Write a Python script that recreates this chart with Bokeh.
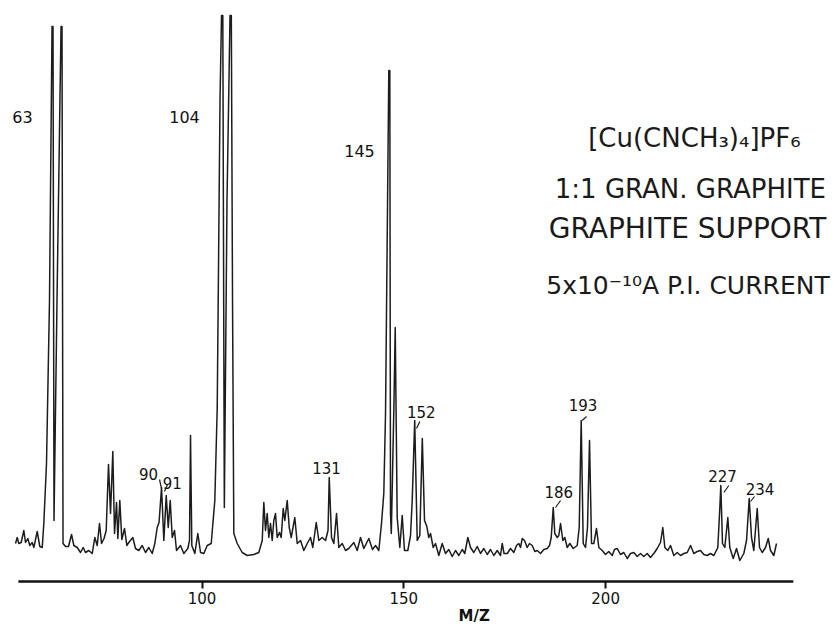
from bokeh.plotting import figure
from bokeh.models import Range1d, FixedTicker, ColumnDataSource, Title
from bokeh.embed import file_html
from bokeh.resources import INLINE
from bokeh.core.properties import value

# ---- spectrum trace (position on M/Z axis, relative intensity) ----
trace_mz = [53.79, 54.21, 54.61, 55.20, 55.85, 56.27, 56.84, 57.33, 57.93, 58.33, 59.17, 59.81, 60.41,
            60.80, 61.47, 62.21, 62.84, 63.08, 63.33, 64.07, 65.07, 65.31, 65.56, 66.18, 66.92, 67.67,
            68.24, 69.08, 69.90, 70.56, 71.14, 71.95, 72.80, 73.44, 74.03, 74.60, 75.10, 75.72, 76.26,
            76.83, 77.33, 77.90, 78.32, 78.82, 79.14, 79.63, 80.13, 80.80, 81.37, 81.86, 82.85, 83.52,
            84.34, 85.18, 86.00, 86.82, 87.66, 88.31, 88.90, 89.35, 89.97, 90.54, 91.13, 91.63, 92.12,
            92.62, 93.19, 93.68, 94.67, 95.49, 96.48, 96.90, 97.15, 97.47, 98.22, 98.96, 99.63, 100.45,
            101.29, 102.28, 103.17, 103.77, 104.46, 104.83, 105.15, 105.53, 106.19, 106.94, 107.26,
            107.56, 107.88, 108.72, 109.96, 111.20, 112.83, 114.07, 114.92, 115.31, 115.73, 116.15,
            116.55, 116.97, 117.39, 117.79, 118.21, 118.63, 119.20, 119.62, 120.12, 120.52, 121.11,
            121.61, 122.10, 122.99, 123.59, 124.41, 125.22, 126.07, 126.88, 127.45, 128.30, 128.94,
            129.78, 130.60, 131.22, 131.52, 132.09, 132.66, 133.33, 133.89, 134.74, 135.56, 136.37,
            137.61, 138.45, 139.27, 140.09, 141.33, 142.24, 142.99, 143.81, 144.47, 145.04, 145.47,
            146.28, 146.53, 146.70, 146.90, 147.57, 147.87, 148.36, 149.01, 149.60, 150.17, 150.99,
            151.66, 152.08, 152.70, 153.32, 153.96, 154.58, 155.13, 155.70, 156.19, 156.62, 157.28,
            157.85, 158.67, 159.51, 160.33, 161.15, 161.99, 162.81, 163.63, 164.47, 165.11, 165.86,
            166.53, 167.34, 168.19, 169.00, 169.82, 170.66, 171.48, 172.30, 173.14, 173.96, 174.38,
            174.83, 175.62, 176.44, 177.25, 177.92, 178.49, 178.91, 179.34, 179.91, 180.57, 181.14,
            181.81, 182.46, 183.05, 183.87, 184.69, 185.53, 186.10, 186.52, 187.02, 187.41, 188.01,
            188.40, 188.83, 189.40, 189.89, 190.49, 191.13, 191.97, 192.96, 193.46, 193.95, 194.45,
            195.02, 195.51, 196.01, 196.51, 197.08, 197.74, 198.32, 199.16, 199.98, 200.79, 201.64,
            202.20, 202.87, 203.69, 204.51, 205.35, 206.17, 206.99, 207.83, 208.65, 209.46, 210.31,
            211.12, 212.12, 212.78, 213.60, 214.17, 214.67, 215.41, 216.08, 216.90, 217.74, 218.56,
            219.38, 220.22, 221.04, 221.85, 222.70, 223.51, 224.33, 225.17, 225.99, 226.81, 227.80,
            228.30, 228.54, 228.96, 229.53, 230.28, 230.77, 231.62, 232.43, 233.25, 234.24, 234.91,
            235.58, 236.15, 236.72, 237.56, 238.13, 238.80, 239.62, 240.29, 240.86, 241.68, 242.34]

trace_int = [12, 18, 12, 13, 25, 13, 17, 10, 13, 8, 24, 9, 8,
             32, 92, 255, 529, 529, 35, 255, 529, 529, 12, 9, 9, 21,
             10, 8, 3, 8, 3, 5, 2, 18, 10, 32, 12, 17, 25,
             91, 42, 104, 22, 53, 17, 55, 16, 27, 10, 13, 18, 7,
             5, 10, 3, 8, 2, 12, 28, 33, 68, 15, 60, 28, 55,
             18, 25, 5, 10, 2, 7, 15, 120, 10, 2, 22, 3, 2,
             10, 12, 55, 148, 455, 540, 540, 48, 355, 540, 540,
             255, 22, 12, 3, 0, 1, 3, 15, 53, 25, 42,
             18, 32, 15, 35, 42, 18, 23, 18, 47, 35, 55,
             28, 18, 38, 12, 15, 5, 12, 18, 8, 33, 15,
             18, 15, 25, 78, 18, 12, 42, 8, 12, 5, 7,
             13, 5, 18, 7, 17, 6, 10, 5, 32, 62, 142,
             485, 485, 42, 22, 155, 228, 38, 8, 40, 5, 5,
             20, 55, 135, 15, 20, 117, 35, 29, 18, 22, 8,
             12, 0, 12, 2, 6, -1, 5, 0, 6, 2, 18,
             8, 3, 9, 2, 7, 1, 6, 0, 5, 0, 12,
             2, 2, 7, 3, 10, 12, 8, 17, 15, 8, 12,
             10, 4, 5, 2, 6, 7, 10, 18, 48, 22, 18,
             20, 32, 15, 18, 8, 12, 7, 10, 28, 135, 12,
             8, 28, 115, 12, 12, 27, 8, 5, 1, 4, 0,
             6, 7, 1, 3, -3, 2, 3, -1, 2, -1, 2,
             -2, 3, 7, 13, 28, 8, 5, 10, 0, 3, 0,
             2, 3, 10, 2, 4, 5, 1, 0, 2, 0, 8,
             48, 70, 12, 8, 38, 8, -3, 7, -5, 2, 15,
             57, 18, 5, 47, 8, 3, 8, 17, 5, 0, 12]

axis_ticks = [100, 150, 200]
axis_span = [54.5, 246.5]
axis_title = "M/Z"

peak_text = ["63", "104", "145", "131", "90", "91", "152", "186", "193", "227", "234"]
peak_text_mz = [55.52, 95.66, 139.02, 130.83, 86.74, 92.62, 154.34, 188.40, 194.40, 228.97, 238.26]
peak_text_int = [439, 439, 405, 88, 82, 73, 144, 64, 151, 80, 67]
peak_text_size = ["16px", "16px", "16px", "15px", "15px", "15px", "15px", "15px", "15px", "15px", "15px"]

leader_mz0 = [89.47, 90.70, 153.15, 187.59, 194.20, 229.29, 235.90]
leader_int0 = [76, 64, 127, 48, 135, 63, 54]
leader_mz1 = [89.96, 91.44, 153.96, 188.83, 195.27, 230.52, 236.89]
leader_int1 = [67, 71, 134, 55, 139, 70, 59]

info_lines = ["[Cu(CNCH\u2083)\u2084]PF\u2086", "1:1 GRAN. GRAPHITE", "GRAPHITE SUPPORT",
              "5x10\u207b\u00b9\u2070A P.I. CURRENT"]
info_mz = [222.0, 221.0, 220.3, 220.4]
info_int = [418, 367, 327, 270]
info_size = ["26px", "26px", "28px", "25px"]

FONT = "DejaVu Sans"
INK = "#1c1c1c"

p = figure(width=834, height=626, x_range=Range1d(50.07, 256.71), y_range=Range1d(-28, 555),
           output_backend="svg", toolbar_location=None, y_axis_location=None,
           min_border_left=0, min_border_right=0, min_border_top=0, min_border_bottom=43)
p.outline_line_color = None
p.xgrid.grid_line_color = None
p.ygrid.grid_line_color = None
p.background_fill_color = "white"
p.border_fill_color = "white"

# spectrum trace
p.line(trace_mz, trace_int, line_color=INK, line_width=1.5, line_join="round")

# baseline axis line (drawn at the bottom of the data area)
p.line(axis_span, [-26, -26], line_color="#111111", line_width=2.6)

# leader strokes of the peak labels
p.segment(leader_mz0, leader_int0, leader_mz1, leader_int1, line_color=INK, line_width=1.2)

src = ColumnDataSource(dict(x=peak_text_mz, y=peak_text_int, t=peak_text, s=peak_text_size))
p.text(x="x", y="y", text="t", source=src, text_font=value(FONT), text_font_size="s",
       text_align="center", text_baseline="middle", text_color="#111111")

info_src = ColumnDataSource(dict(x=info_mz, y=info_int, t=info_lines, s=info_size))
p.text(x="x", y="y", text="t", source=info_src, text_font=value(FONT), text_font_size="s",
       text_align="center", text_baseline="alphabetic", text_color="#1a1a1a")

ax = p.xaxis[0]
ax.ticker = FixedTicker(ticks=axis_ticks)
ax.axis_line_color = None
ax.major_tick_line_width = 2
ax.major_tick_line_color = "#111111"
ax.major_tick_in = 2
ax.major_tick_out = 5
ax.minor_tick_line_color = None
ax.major_label_text_font = FONT
ax.major_label_text_font_size = "15px"
ax.major_label_text_color = "#111111"
ax.major_label_standoff = 3

p.add_layout(Title(text=axis_title, align="left", offset=458, standoff=-4, text_font=FONT,
                   text_font_size="15px", text_font_style="bold", text_color="#111111"), "below")

open("out.html", "w").write(file_html(p, INLINE))
